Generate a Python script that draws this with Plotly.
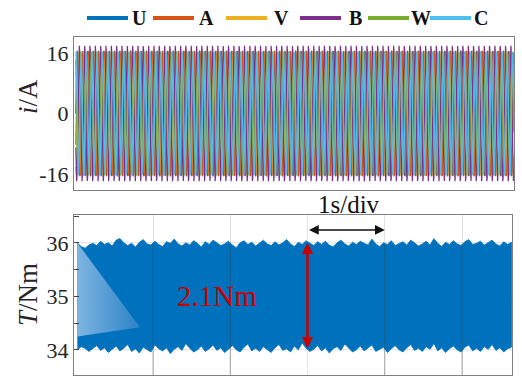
import numpy as np
import plotly.graph_objects as go

# ---------------- data ----------------
phase_names = ["U", "A", "V", "B", "W", "C"]
phase_colors = ["#0072BD", "#D95319", "#EDB120", "#7E2F8E", "#77AC30", "#4DBEEE"]
phase_amplitude = [16.6, 16.5, 16.3, 17.9, 16.4, 16.2]      # A, read from peaks
phase_angle_deg = [0, 30, 120, 150, 240, 270]               # dual three-phase set
current_freq_hz = 14.5                                       # ~83 cycles across the window
t_start, t_end = 0.0, 5.67

current_ticks = [-16, 0, 16]
torque_ticks = [34, 35, 36]
time_grid = [1, 2, 3, 4, 5]

torque_upper = [36.00, 35.93, 35.90, 35.96, 35.99, 35.95, 36.03, 35.97, 36.00, 35.94, 36.05, 36.08, 36.00,
                35.95, 35.99, 35.92, 36.01, 36.06, 35.98, 35.96, 36.03, 35.97, 35.93, 36.02, 35.99, 36.07,
                35.98, 35.94, 36.00, 35.96, 36.04, 35.99, 35.92, 36.02, 35.97, 36.05, 36.00, 35.95, 35.98,
                36.03, 35.96, 35.91, 36.00, 36.04, 35.97, 36.01, 35.94, 35.99, 36.05, 35.98, 35.95, 36.02,
                35.96, 36.00, 36.06, 35.98, 35.93, 36.01, 35.97, 36.04, 35.99, 35.95, 36.02, 35.97, 36.03,
                35.96, 35.92, 36.00, 36.05, 35.98, 35.94, 36.01, 35.97, 36.03, 35.99, 35.96, 36.07, 35.98,
                35.93, 36.00, 35.97, 36.04, 35.95, 35.99, 36.02, 35.96, 36.05, 36.00, 35.94, 35.98, 36.03,
                35.96, 36.08, 35.99, 35.93, 36.01, 35.97, 36.04, 35.98, 35.95, 36.02, 36.06, 35.97, 35.99,
                36.03, 35.96, 36.00, 36.05, 35.98, 35.94, 36.02, 35.97, 36.01]
torque_lower = [34.00, 34.06, 34.03, 33.97, 34.02, 34.08, 33.99, 34.04, 33.95, 34.01, 34.07, 33.98, 34.03,
                34.10, 33.97, 34.02, 33.94, 34.05, 34.00, 33.96, 34.09, 34.02, 33.98, 34.04, 33.93, 34.01,
                34.06, 33.99, 34.12, 34.03, 33.96, 34.00, 34.07, 33.97, 34.02, 34.09, 33.99, 34.04, 33.95,
                34.01, 34.08, 34.00, 33.96, 34.05, 34.11, 33.98, 34.03, 33.97, 34.06, 34.01, 33.95, 34.04,
                34.10, 33.99, 34.02, 33.96, 34.07, 34.00, 34.13, 34.03, 33.97, 34.01, 34.08, 33.98, 34.04,
                33.94, 34.02, 34.06, 33.99, 34.11, 34.03, 33.96, 34.00, 34.07, 33.98, 34.03, 34.09, 33.97,
                34.01, 34.05, 33.95, 34.02, 34.08, 34.00, 33.96, 34.04, 34.10, 33.99, 34.03, 33.97, 34.06,
                34.01, 34.12, 33.98, 34.04, 33.95, 34.02, 34.07, 34.00, 33.96, 34.05, 34.09, 33.98, 34.03,
                33.97, 34.06, 34.01, 34.10, 33.99, 34.04, 33.96, 34.02, 34.05]
torque_t0, torque_t1 = 0.02, 5.64

fade_x = [0.02, 0.83, 0.02]
fade_y = [36.0, 34.42, 34.25]

ripple_label = "2.1Nm"
scale_label = "1s/div"

# ---------------- figure ----------------
W, H = 522, 377
SERIF = "Liberation Serif, Times New Roman, serif"
fig = go.Figure()

t = np.linspace(t_start, t_end, 2600)
for name, col, amp, ang in zip(phase_names, phase_colors, phase_amplitude, phase_angle_deg):
    y = amp * np.sin(2 * np.pi * current_freq_hz * t - np.deg2rad(ang))
    fig.add_trace(go.Scatter(x=t, y=y, mode="lines", name=name,
                             line=dict(color=col, width=1.2), xaxis="x", yaxis="y",
                             showlegend=False, hoverinfo="skip"))

tu = np.linspace(torque_t0, torque_t1, len(torque_upper))
tl = np.linspace(torque_t0, torque_t1, len(torque_lower))
fig.add_trace(go.Scatter(x=np.concatenate([tu, tl[::-1]]),
                         y=np.concatenate([torque_upper, torque_lower[::-1]]),
                         mode="lines", fill="toself", fillcolor="#0072BD",
                         line=dict(color="#0072BD", width=0.8),
                         xaxis="x2", yaxis="y2", showlegend=False, hoverinfo="skip"))
fig.add_trace(go.Scatter(x=fade_x + [fade_x[0]], y=fade_y + [fade_y[0]], mode="lines", fill="toself",
                         fillgradient=dict(type="horizontal",
                                           colorscale=[[0, "#7fb5e1"], [1, "#2a82c7"]]),
                         line=dict(width=0), xaxis="x2", yaxis="y2",
                         showlegend=False, hoverinfo="skip"))

xl, xr_top, xr_bot = 74 / W, 514 / W, 512 / W
x_range_top = [-0.023, 5.673]
x_range_bot = [-0.023, 5.647]
tickfont = dict(family=SERIF, size=22, color="#262626")
frame = "#808080"

fig.update_layout(
    width=W, height=H, margin=dict(l=0, r=0, t=0, b=0),
    paper_bgcolor="white", plot_bgcolor="white", showlegend=False,
    xaxis=dict(domain=[xl, xr_top], range=x_range_top, showticklabels=False, showgrid=False,
               zeroline=False, showline=True, mirror=True, linecolor=frame, linewidth=1, anchor="y"),
    yaxis=dict(domain=[1 - 190 / H, 1 - 37 / H], range=[-20.2, 20.2], tickvals=current_ticks,
               ticktext=[str(v) for v in current_ticks], tickfont=tickfont, showgrid=False,
               zeroline=False, showline=True, mirror=True, linecolor=frame, linewidth=1,
               ticks="", anchor="x"),
    xaxis2=dict(domain=[xl, xr_bot], range=x_range_bot, tickvals=time_grid, showticklabels=False,
                showgrid=True, gridcolor="#e3e3e3", gridwidth=1, zeroline=False, showline=True,
                mirror=True, linecolor=frame, linewidth=1, ticks="", anchor="y2"),
    yaxis2=dict(domain=[1 - 375 / H, 1 - 215 / H], range=[33.53, 36.52], tickvals=torque_ticks,
                ticktext=[str(v) for v in torque_ticks], tickfont=tickfont, showgrid=True,
                gridcolor="#e3e3e3", zeroline=False, showline=True, mirror=True, linecolor=frame,
                linewidth=1, ticks="inside", ticklen=5, tickcolor="#444",
                minor=dict(dtick=0.5, tick0=34, ticks="inside", ticklen=5, tickcolor="#444",
                           showgrid=False),
                anchor="x2"),
)

# darker time-division marks over / under the torque band
for xv in [1, 2, 4, 5]:
    fig.add_shape(type="line", xref="x2", yref="y2", x0=xv, x1=xv, y0=33.53, y1=35.98,
                  line=dict(color="rgba(60,60,60,0.4)", width=1), layer="above")

# axis titles
fig.add_annotation(xref="paper", yref="paper", x=28 / W, y=1 - 97 / H, text="<i>i</i>/A",
                   textangle=-90, showarrow=False, xanchor="center", yanchor="middle",
                   font=dict(family=SERIF, size=27, color="#262626"))
fig.add_annotation(xref="paper", yref="paper", x=28 / W, y=1 - 295 / H, text="<i>T</i>/Nm",
                   textangle=-90, showarrow=False, xanchor="center", yanchor="middle",
                   font=dict(family=SERIF, size=27, color="#262626"))

# 1s/div label + horizontal double arrow
fig.add_annotation(xref="paper", yref="paper", x=349 / W, y=1 - 205 / H, text=scale_label,
                   showarrow=False, xanchor="center", yanchor="middle",
                   font=dict(family=SERIF, size=25, color="#111"))
fig.add_annotation(xref="x2", yref="y2", axref="x2", ayref="y2", x=4.0, y=36.24, ax=3.0, ay=36.24,
                   text="", showarrow=True, arrowside="end+start", arrowhead=2, arrowsize=1.3,
                   arrowwidth=1.5, arrowcolor="#111")
# ripple arrow + label
fig.add_annotation(xref="x2", yref="y2", axref="x2", ayref="y2", x=3.0, y=36.0, ax=3.0, ay=34.0,
                   text="", showarrow=True, arrowside="end+start", arrowhead=2, arrowsize=0.9,
                   arrowwidth=2.5, arrowcolor="#C80000")
fig.add_annotation(xref="x2", yref="y2", x=1.83, y=35.0, text=ripple_label, showarrow=False,
                   xanchor="center", yanchor="middle",
                   font=dict(family=SERIF, size=29, color="#C80000"))

# custom legend
leg_line_x0 = [87, 153, 226, 300, 368, 430]
leg_text_x = [130, 197, 272, 347, 409, 472]
leg_y = 1 - 18 / H
for name, col, lx, tx in zip(phase_names, phase_colors, leg_line_x0, leg_text_x):
    fig.add_shape(type="line", xref="paper", yref="paper", x0=lx / W, x1=(lx + 41) / W,
                  y0=leg_y, y1=leg_y, line=dict(color=col, width=4))
    fig.add_annotation(xref="paper", yref="paper", x=tx / W, y=leg_y, text=f"<b>{name}</b>",
                       xanchor="left", yanchor="middle", showarrow=False,
                       font=dict(family=SERIF, size=20, color="#111"))

fig.write_html("out.html")
